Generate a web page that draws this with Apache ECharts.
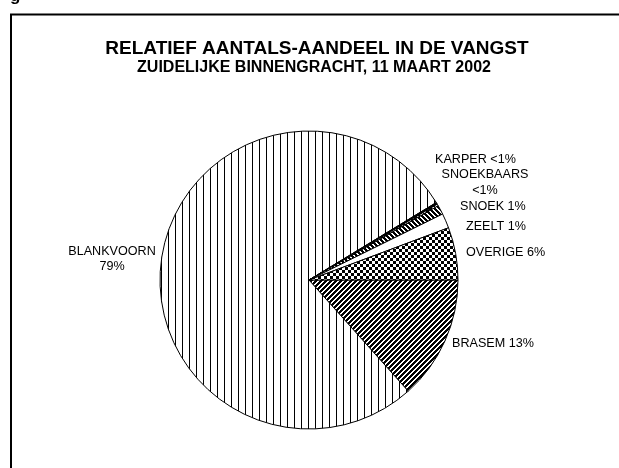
<!DOCTYPE html>
<html>
<head>
<meta charset="utf-8">
<script src="https://cdn.jsdelivr.net/npm/echarts@6/dist/echarts.min.js"></script>
<style>
html, body { margin: 0; padding: 0; background: #fff; }
#chart { width: 619px; height: 468px; }
</style>
</head>
<body>
<div id="chart"></div>
<script>
// soorten met de klok mee, eerste taartpunt begint op 3 uur
const soorten = ['BRASEM', 'BLANKVOORN', 'KARPER', 'SNOEKBAARS', 'SNOEK', 'ZEELT', 'OVERIGE'];
const aandeel = [13.4, 77.9, 0.2, 0.2, 1.0, 1.6, 5.7];
const labels = ['BRASEM 13%', 'BLANKVOORN\n79%', 'KARPER <1%', 'SNOEKBAARS\n<1%', 'SNOEK 1%', 'ZEELT 1%', 'OVERIGE 6%'];
const titel = 'RELATIEF AANTALS-AANDEEL IN DE VANGST';
const subtitel = 'ZUIDELIJKE BINNENGRACHT, 11 MAART 2002';

// arceringen zoals in excel (zwart op wit)
function patroon(w, h, teken) {
    let c = document.createElement('canvas');
    c.width = w;
    c.height = h;
    let ctx = c.getContext('2d');
    ctx.fillStyle = '#fff';
    ctx.fillRect(0, 0, w, h);
    ctx.fillStyle = '#000';
    for (let y = 0; y < h; y++) {
        for (let x = 0; x < w; x++) {
            if (teken(x, y)) ctx.fillRect(x, y, 1, 1);
        }
    }
    return { image: c, repeat: 'repeat' };
}
const verticaal = patroon(7, 1, (x, y) => x == 0);
const schuinOp = patroon(5, 5, (x, y) => (x + y) % 5 < 3);
const schuinAf = patroon(5, 5, (x, y) => (x - y + 5) % 5 < 3);
const ruit = patroon(6, 6, (x, y) => (x < 3) == (y < 3));
const vulling = [schuinOp, verticaal, '#000', ruit, schuinAf, '#fff', ruit];

// plek van de labels (excel zet ze los van de taartpunt)
const labelPlek = [
    [452, 344, 'left'],
    [112, 259, 'center'],
    [435, 160, 'left'],
    [485, 182.5, 'center'],
    [460, 207, 'left'],
    [466, 227, 'left'],
    [466, 252.5, 'left']
];

var myChart = echarts.init(document.getElementById('chart'));
option = {
    animation: false,
    backgroundColor: '#fff',
    graphic: [
        {
            type: 'polyline',
            shape: { points: [[11, 480], [11, 14.5], [630, 14.5]] },
            style: { stroke: '#000', lineWidth: 2, fill: null }
        },
        {
            type: 'text', x: 10, y: -12,
            style: { text: 'g', font: 'bold 17px "Liberation Sans"', fill: '#000', textVerticalAlign: 'top', verticalAlign: 'top' }
        },
        {
            type: 'text', x: 317, y: 48.5,
            style: { text: titel, font: 'bold 19px "Liberation Sans"', fill: '#000', textAlign: 'center', align: 'center', textVerticalAlign: 'middle', verticalAlign: 'middle' }
        },
        {
            type: 'text', x: 314, y: 67.5,
            style: { text: subtitel, font: 'bold 16px "Liberation Sans"', fill: '#000', textAlign: 'center', align: 'center', textVerticalAlign: 'middle', verticalAlign: 'middle' }
        }
    ],
    series: [
        {
            type: 'pie',
            center: [309, 280],
            radius: 149,
            startAngle: 0,
            clockwise: true,
            silent: true,
            avoidLabelOverlap: false,
            itemStyle: { borderColor: '#000', borderWidth: 1 },
            label: {
                show: true,
                position: 'outside',
                formatter: function (p) { return labels[p.dataIndex]; },
                color: '#000',
                fontFamily: 'Liberation Sans',
                fontSize: 12.6,
                lineHeight: 15.5
            },
            labelLine: { show: false },
            labelLayout: function (p) {
                let plek = labelPlek[p.dataIndex];
                return { x: plek[0], y: plek[1], align: plek[2], verticalAlign: 'middle' };
            },
            emphasis: { disabled: true },
            data: soorten.map(function (s, i) {
                return { name: s, value: aandeel[i], itemStyle: { color: vulling[i] } };
            })
        }
    ]
};
myChart.setOption(option);
</script>
</body>
</html>
